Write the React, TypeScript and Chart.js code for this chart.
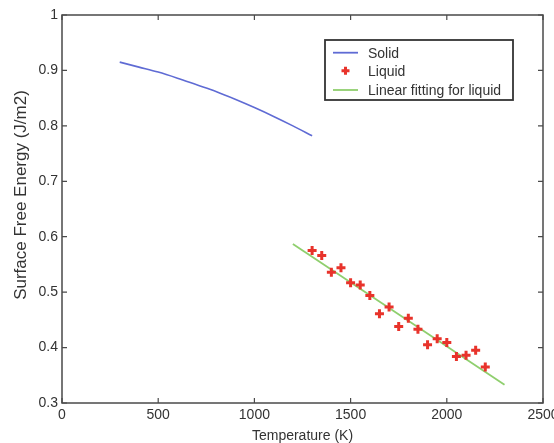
import React, { useEffect, useRef } from "react";
import { Chart, registerables } from "chart.js";

Chart.register(...registerables);

// Solid curve (temperature K, energy J/m2)
const solidT = [300, 400, 500, 600, 700, 800, 900, 1000, 1100, 1200, 1300];
const solidE = [0.915, 0.906, 0.897, 0.886, 0.874, 0.862, 0.848, 0.833, 0.817, 0.8, 0.782];

// Liquid data points
const liquidT = [1300, 1350, 1400, 1450, 1500, 1550, 1600, 1650, 1700, 1750, 1800, 1850, 1900, 1950, 2000, 2050, 2100, 2150, 2200];
const liquidE = [0.575, 0.566, 0.536, 0.544, 0.517, 0.513, 0.494, 0.461, 0.473, 0.438, 0.453, 0.433, 0.405, 0.416, 0.409, 0.384, 0.386, 0.395, 0.365];

// Linear fit for liquid
const fitT = [1200, 2300];
const fitE = [0.587, 0.333];

const xTicks = [0, 500, 1000, 1500, 2000, 2500];
const yTicks = [0.3, 0.4, 0.5, 0.6, 0.7, 0.8, 0.9, 1];

const yTitle = "Surface Free Energy (J/m2)";
const xTitle = "Temperature (K)";

const FONT = "'Liberation Sans', Arial, sans-serif";
const TEXT = "#333333";
const AXIS = "#4a4a4a";

const zip = (xs: number[], ys: number[]) => xs.map((x, i) => ({ x, y: ys[i] }));

const framePlugin = {
  id: "frame",
  afterDraw(chart: any) {
    const { ctx, chartArea: a, scales } = chart;
    const xs = scales.x, ys = scales.y;
    ctx.save();
    ctx.strokeStyle = AXIS;
    ctx.lineWidth = 1.5;
    ctx.strokeRect(a.left, a.top, a.right - a.left, a.bottom - a.top);
    const tl = 5;
    ctx.lineWidth = 1.2;
    ctx.beginPath();
    xTicks.forEach((v) => {
      const px = xs.getPixelForValue(v);
      ctx.moveTo(px, a.bottom); ctx.lineTo(px, a.bottom - tl);
      ctx.moveTo(px, a.top); ctx.lineTo(px, a.top + tl);
    });
    yTicks.forEach((v) => {
      const py = ys.getPixelForValue(v);
      ctx.moveTo(a.left, py); ctx.lineTo(a.left + tl, py);
      ctx.moveTo(a.right, py); ctx.lineTo(a.right - tl, py);
    });
    ctx.stroke();

    // y axis title
    ctx.save();
    ctx.translate(21, (a.top + a.bottom) / 2 - 14);
    ctx.rotate(-Math.PI / 2);
    ctx.font = `17px ${FONT}`;
    ctx.fillStyle = TEXT;
    ctx.textAlign = "center";
    ctx.textBaseline = "middle";
    ctx.fillText(yTitle, 0, 0);
    ctx.restore();

    // legend box
    const bx = a.right - 218, by = a.top + 25, bw = 188, bh = 60;
    ctx.fillStyle = "#ffffff";
    ctx.fillRect(bx, by, bw, bh);
    ctx.strokeStyle = "#333333";
    ctx.lineWidth = 1.8;
    ctx.strokeRect(bx, by, bw, bh);
    const rows = [12.7, 30.7, 50];
    ctx.font = `14px ${FONT}`;
    ctx.textBaseline = "middle";
    ctx.textAlign = "left";
    chart.data.datasets.forEach((ds: any, i: number) => {
      const yy = by + rows[i];
      const x0 = bx + 8, x1 = bx + 33;
      if (ds.showLine) {
        ctx.strokeStyle = ds.borderColor;
        ctx.lineWidth = 1.8;
        ctx.beginPath();
        ctx.moveTo(x0, yy); ctx.lineTo(x1, yy);
        ctx.stroke();
      } else {
        const cx = (x0 + x1) / 2;
        ctx.strokeStyle = ds.pointBorderColor;
        ctx.lineWidth = 3;
        ctx.beginPath();
        ctx.moveTo(cx - 4, yy); ctx.lineTo(cx + 4, yy);
        ctx.moveTo(cx, yy - 4); ctx.lineTo(cx, yy + 4);
        ctx.stroke();
      }
      ctx.fillStyle = TEXT;
      ctx.fillText(ds.label, bx + 43, yy + 1);
    });
    ctx.restore();
  },
};

export default function App() {
  const ref = useRef<HTMLCanvasElement | null>(null);
  useEffect(() => {
    if (!ref.current) return;
    const chart = new Chart(ref.current, {
      type: "scatter",
      data: {
        datasets: [
          {
            label: "Solid",
            data: zip(solidT, solidE),
            showLine: true,
            borderColor: "#5f6bd4",
            borderWidth: 1.6,
            pointRadius: 0,
            cubicInterpolationMode: "monotone",
          },
          {
            label: "Liquid",
            data: zip(liquidT, liquidE),
            showLine: false,
            pointStyle: "cross",
            pointRadius: 4.5,
            pointBorderWidth: 3,
            pointBorderColor: "#e8332b",
            pointBackgroundColor: "#e8332b",
            borderColor: "#e8332b",
          } as any,
          {
            label: "Linear fitting for liquid",
            data: zip(fitT, fitE),
            showLine: true,
            borderColor: "#8fcf6e",
            borderWidth: 1.8,
            pointRadius: 0,
          },
        ],
      },
      options: {
        animation: false,
        responsive: false,
        layout: { padding: { top: 15, right: 11, left: 0, bottom: 0 } },
        plugins: { legend: { display: false }, tooltip: { enabled: false } },
        scales: {
          x: {
            type: "linear",
            min: 0,
            max: 2500,
            afterBuildTicks: (s: any) => { s.ticks = xTicks.map((v) => ({ value: v })); },
            afterFit: (s: any) => { s.height = 40; s.paddingLeft = 0; s.paddingRight = 0; },
            grid: { display: false, drawTicks: false },
            border: { display: false },
            ticks: {
              font: { family: FONT, size: 14 },
              color: TEXT,
              padding: 4,
              maxRotation: 0,
              callback: (v: any) => String(v),
            },
            title: {
              display: true,
              text: xTitle,
              color: TEXT,
              font: { family: FONT, size: 14, lineHeight: 1 },
              padding: 0,
            },
          },
          y: {
            type: "linear",
            min: 0.3,
            max: 1,
            afterBuildTicks: (s: any) => { s.ticks = yTicks.map((v) => ({ value: v })); },
            afterFit: (s: any) => { s.width = 62; s.paddingTop = 0; s.paddingBottom = 0; },
            grid: { display: false, drawTicks: false },
            border: { display: false },
            ticks: {
              font: { family: FONT, size: 14 },
              color: TEXT,
              padding: 4,
              callback: (v: any) => String(Math.round(Number(v) * 10) / 10),
            },
            title: { display: false },
          },
        },
      },
      plugins: [framePlugin],
    } as any);
    return () => chart.destroy();
  }, []);
  return (
    <div style={{ position: "absolute", left: 0, top: 0, width: 554, height: 443, background: "#fff" }}>
      <canvas ref={ref} width={554} height={443} style={{ width: 554, height: 443 }} />
    </div>
  );
}
